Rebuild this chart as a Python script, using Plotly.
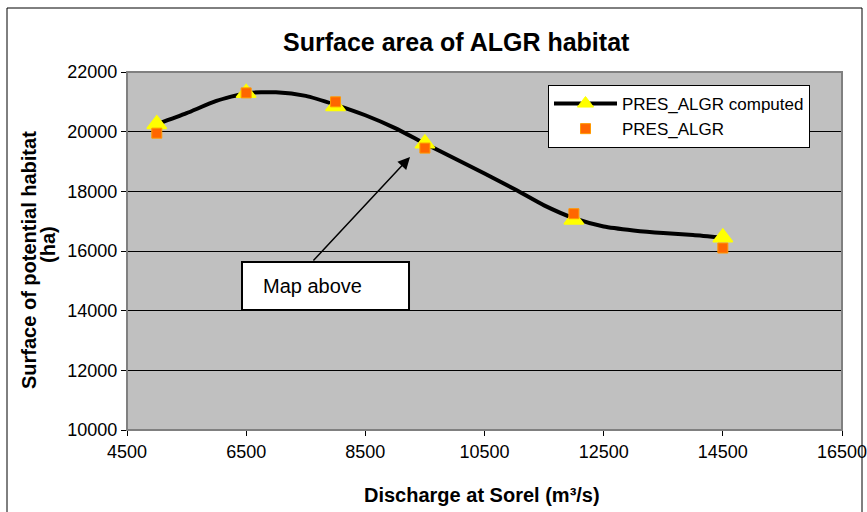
import plotly.graph_objects as go

# Data
q_points = [5000, 6500, 8000, 9500, 12000, 14500]
computed_markers = [20250, 21300, 20850, 19600, 17050, 16450]
observed = [19950, 21300, 21000, 19450, 17250, 16100]

q_line = [5000, 5500, 6000, 6500, 7000, 7500, 8000, 8500, 9000, 9500, 10000,
          10500, 11000, 11500, 12000, 12500, 13000, 13500, 14000, 14500]
computed_line = [20250, 20620, 21030, 21290, 21320, 21200, 20900, 20550, 20120, 19600, 19100,
                 18600, 18080, 17530, 17100, 16820, 16690, 16600, 16540, 16450]

x_ticks = [4500, 6500, 8500, 10500, 12500, 14500, 16500]
y_ticks = [10000, 12000, 14000, 16000, 18000, 20000, 22000]

FONT = "Liberation Sans, Arial, sans-serif"

fig = go.Figure()

# computed curve
fig.add_trace(go.Scatter(
    x=q_line, y=computed_line, mode="lines",
    line=dict(color="black", width=4, shape="spline", smoothing=0.6),
    showlegend=False, hoverinfo="skip"))
# computed markers
fig.add_trace(go.Scatter(
    x=q_points, y=computed_markers, mode="markers", name="PRES_ALGR computed",
    marker=dict(symbol="triangle-up", size=17, color="#FFFF00",
                line=dict(color="#FFFF00", width=1.5)),
    showlegend=False))
# legend entry for computed series (line + triangle)
fig.add_trace(go.Scatter(
    x=[None], y=[None], mode="lines+markers", name="PRES_ALGR computed",
    line=dict(color="black", width=4),
    marker=dict(symbol="triangle-up", size=14, color="#FFFF00",
                line=dict(color="#FFFF00", width=1))))
# observed
fig.add_trace(go.Scatter(
    x=q_points, y=observed, mode="markers", name="PRES_ALGR",
    marker=dict(symbol="square", size=10, color="#FF6600",
                line=dict(color="#FF9900", width=1))))

px0, px1, py0, py1 = 127, 842, 72, 430
W, H = 867, 512
def xp(px):
    return (px - px0) / (px1 - px0)
def yp(py):
    return (py1 - py) / (py1 - py0)

shapes = [
    # outer chart frame
    dict(type="rect", xref="paper", yref="paper",
         x0=xp(7), x1=xp(862), y0=yp(530), y1=yp(8),
         line=dict(color="black", width=1), fillcolor="rgba(0,0,0,0)", layer="below"),
    # plot area border (gray top/right)
    dict(type="rect", xref="paper", yref="paper", x0=0, x1=1, y0=0, y1=1,
         line=dict(color="#808080", width=2), fillcolor="rgba(0,0,0,0)"),
    # "Map above" box
    dict(type="rect", xref="x", yref="y", x0=6430, x1=9233, y0=14022, y1=15631,
         line=dict(color="black", width=2), fillcolor="white", layer="above"),
]

def ann(text, x, y, size, angle=0, xanchor="center"):
    return dict(text=text, xref="paper", yref="paper", x=xp(x), y=yp(y),
                xanchor=xanchor, yanchor="middle", textangle=angle, showarrow=False,
                font=dict(size=size, family=FONT, color="black"))

annotations = [
    ann("<b>Surface area of ALGR habitat</b>", 456, 42, 25),
    ann("<b>Discharge at Sorel (m³/s)</b>", 482, 495, 20),
    ann("<b>Surface of potential habitat</b>", 29, 260, 20, angle=-90),
    ann("<b>(ha)</b>", 48, 245, 20, angle=-90),
    # arrow
    dict(text="", x=9250, y=19150, ax=7605, ay=15631, xref="x", yref="y",
         axref="x", ayref="y", showarrow=True, arrowhead=2, arrowsize=1.6,
         arrowwidth=1.5, arrowcolor="black", standoff=0),
    dict(text="Map above", xref="x", yref="y", x=6750, y=14827, xanchor="left",
         yanchor="middle", showarrow=False, font=dict(size=20, family=FONT, color="black")),
]

fig.update_layout(
    width=W, height=H,
    margin=dict(l=px0, r=W - px1, t=py0, b=H - py1, autoexpand=False),
    paper_bgcolor="white", plot_bgcolor="#C0C0C0",
    font=dict(family=FONT, size=18, color="black"),
    shapes=shapes, annotations=annotations,
    legend=dict(x=xp(548), y=yp(85), xanchor="left", yanchor="top",
                bgcolor="white", bordercolor="black", borderwidth=1,
                font=dict(size=17, family=FONT, color="black"),
                tracegroupgap=0, itemwidth=63),
)
fig.update_xaxes(range=[4500, 16500], tickvals=x_ticks, tickformat="d", showgrid=False,
                 showline=True, linecolor="black", linewidth=1, automargin=False,
                 ticks="outside", ticklen=5, tickcolor="black", zeroline=False,
                 ticklabeloverflow="allow",
                 tickfont=dict(size=18, family=FONT, color="black"))
fig.update_yaxes(range=[10000, 22000], tickvals=y_ticks, tickformat="d", showgrid=True,
                 gridcolor="black", gridwidth=1, automargin=False,
                 showline=True, linecolor="black", linewidth=1,
                 ticks="outside", ticklen=5, tickcolor="black", zeroline=False,
                 tickfont=dict(size=18, family=FONT, color="black"))

fig.write_html("out.html", config={"displayModeBar": False},
               post_script="document.body.style.margin='0px';")
